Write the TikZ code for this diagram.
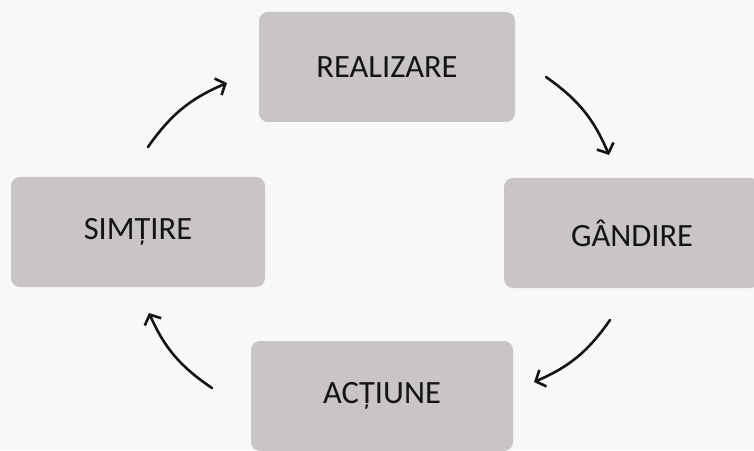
\documentclass[tikz,border=0pt]{standalone}
\usepackage{fontspec}
\setmainfont{Carlito}
\usetikzlibrary{arrows.meta}
\definecolor{boxgray}{RGB}{201,197,197}
\definecolor{bggray}{RGB}{248,248,247}
\definecolor{inkcol}{RGB}{20,20,20}
\tikzset{
  box/.style={fill=boxgray, rounded corners=9pt, minimum width=#1, minimum height=110pt, inner sep=0pt, font=\fontsize{32.5}{36}\selectfont, text=inkcol},
  flow/.style={draw=inkcol, line width=2.6pt, line cap=round, -{Straight Barb[length=8pt,width=18pt,line width=2.6pt]}, bend left=16}
}
\begin{document}
\begin{tikzpicture}[x=1pt,y=1pt]
\fill[bggray] (0,0) rectangle (754,450);
\useasboundingbox (0,0) rectangle (754,450);
\node[box=256pt] (real) at (387,383) {REALIZARE};
\node[box=254pt] (sim) at (138,218) {SIMȚIRE};
\node[box=256pt] (gand) at (632,217) {GÂNDIRE};
\node[box=262pt] (act) at (382,54) {ACȚIUNE};
\coordinate (a1s) at (148,303); \coordinate (a1e) at (227,367);
\coordinate (a2s) at (546,373); \coordinate (a2e) at (609,295);
\coordinate (a3s) at (610,130); \coordinate (a3e) at (534,68);
\coordinate (a4s) at (212,62);  \coordinate (a4e) at (149,137);
\draw[flow] (a1s) to (a1e);
\draw[flow] (a2s) to (a2e);
\draw[flow] (a3s) to (a3e);
\draw[flow] (a4s) to (a4e);
\end{tikzpicture}
\end{document}
